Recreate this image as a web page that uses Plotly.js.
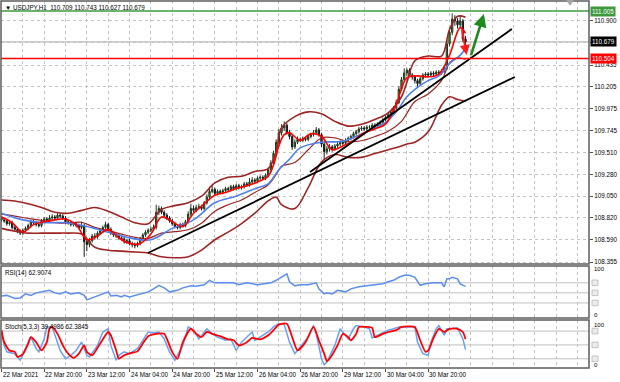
<!DOCTYPE html>
<html><head><meta charset="utf-8">
<script src="https://cdn.plot.ly/plotly-3.0.1.min.js"></script>
<style>html,body{margin:0;padding:0;background:#fff;}#chart{width:620px;height:382px;}</style>
</head><body><div id="chart"></div>
<script>
// ---------- DATA ----------
const opens = [108.82,108.80,108.79,108.76,108.77,108.72,108.70,108.68,108.66,108.69,108.71,108.74,108.78,108.77,108.75,108.74,108.79,108.81,108.80,108.82,
108.83,108.82,108.85,108.84,108.82,108.78,108.77,108.75,108.76,108.74,108.72,108.74,108.57,108.54,108.58,108.63,108.62,108.66,108.69,108.72,
108.75,108.70,108.66,108.64,108.63,108.61,108.60,108.57,108.58,108.55,108.54,108.53,108.55,108.60,108.64,108.67,108.69,108.70,108.72,108.88,
108.92,108.88,108.85,108.82,108.79,108.76,108.73,108.72,108.75,108.74,108.78,108.86,108.92,108.90,108.93,108.94,108.92,108.98,109.04,109.10,
109.12,109.08,109.10,109.09,109.11,109.13,109.12,109.15,109.13,109.16,109.14,109.15,109.18,109.17,109.20,109.22,109.21,109.24,109.25,109.24,
109.27,109.33,109.40,109.50,109.62,109.72,109.77,109.80,109.72,109.68,109.57,109.62,109.65,109.64,109.66,109.65,109.68,109.70,109.72,109.75,
109.70,109.60,109.52,109.55,109.57,109.55,109.58,109.60,109.62,109.61,109.64,109.66,109.68,109.71,109.73,109.76,109.77,109.76,109.78,109.78,
109.80,109.79,109.81,109.83,109.86,109.88,109.91,109.94,109.98,110.04,110.18,110.28,110.35,110.38,110.33,110.31,110.27,110.24,110.29,110.33,
110.34,110.33,110.35,110.34,110.36,110.35,110.37,110.40,110.66,110.78,110.92,110.90,110.86,110.90,110.709];
const closes = [108.80,108.79,108.76,108.77,108.72,108.70,108.68,108.66,108.69,108.71,108.74,108.78,108.77,108.75,108.74,108.79,108.81,108.80,108.82,108.83,
108.82,108.85,108.84,108.82,108.78,108.77,108.75,108.76,108.74,108.72,108.74,108.57,108.54,108.58,108.63,108.62,108.66,108.69,108.72,108.75,
108.70,108.66,108.64,108.63,108.61,108.60,108.57,108.58,108.55,108.54,108.53,108.55,108.60,108.64,108.67,108.69,108.70,108.72,108.88,108.92,
108.88,108.85,108.82,108.79,108.76,108.73,108.72,108.75,108.74,108.78,108.86,108.92,108.90,108.93,108.94,108.92,108.98,109.04,109.10,109.12,
109.08,109.10,109.09,109.11,109.13,109.12,109.15,109.13,109.16,109.14,109.15,109.18,109.17,109.20,109.22,109.21,109.24,109.25,109.24,109.27,
109.33,109.40,109.50,109.62,109.72,109.77,109.80,109.72,109.68,109.57,109.62,109.65,109.64,109.66,109.65,109.68,109.70,109.72,109.75,109.70,
109.60,109.52,109.55,109.57,109.55,109.58,109.60,109.62,109.61,109.64,109.66,109.68,109.71,109.73,109.76,109.77,109.76,109.78,109.78,109.80,
109.79,109.81,109.83,109.86,109.88,109.91,109.94,109.98,110.04,110.18,110.28,110.35,110.38,110.33,110.31,110.27,110.24,110.29,110.33,110.34,
110.33,110.35,110.34,110.36,110.35,110.37,110.40,110.66,110.78,110.92,110.90,110.86,110.90,110.709,110.679];
const highs = [108.84,108.82,108.81,108.79,108.79,108.74,108.72,108.70,108.71,108.73,108.76,108.80,108.80,108.79,108.77,108.81,108.83,108.83,108.85,108.86,
108.85,108.87,108.87,108.86,108.84,108.80,108.79,108.78,108.78,108.76,108.78,108.76,108.60,108.61,108.65,108.66,108.68,108.71,108.74,108.78,
108.77,108.72,108.68,108.66,108.65,108.63,108.62,108.60,108.60,108.57,108.56,108.57,108.62,108.66,108.69,108.71,108.73,108.75,108.96,108.95,
108.94,108.90,108.87,108.84,108.81,108.78,108.75,108.77,108.77,108.80,108.89,108.97,108.95,108.96,108.97,108.96,109.00,109.07,109.15,109.17,
109.14,109.12,109.12,109.13,109.15,109.15,109.17,109.17,109.18,109.18,109.17,109.20,109.20,109.24,109.25,109.24,109.26,109.27,109.27,109.29,
109.35,109.43,109.53,109.65,109.76,109.81,109.84,109.82,109.75,109.70,109.65,109.68,109.67,109.68,109.68,109.70,109.72,109.75,109.78,109.77,
109.72,109.62,109.58,109.60,109.59,109.60,109.62,109.64,109.64,109.66,109.68,109.70,109.73,109.75,109.78,109.79,109.79,109.80,109.80,109.82,
109.82,109.83,109.85,109.88,109.90,109.93,109.96,110.00,110.07,110.21,110.31,110.40,110.40,110.40,110.35,110.33,110.29,110.31,110.35,110.36,
110.36,110.37,110.37,110.38,110.38,110.39,110.43,110.70,110.83,110.98,110.96,110.93,110.95,110.92,110.743];
const lows = [108.78,108.77,108.74,108.74,108.70,108.68,108.66,108.64,108.64,108.67,108.69,108.72,108.75,108.73,108.72,108.72,108.77,108.78,108.78,108.80,
108.80,108.80,108.82,108.80,108.76,108.75,108.73,108.73,108.72,108.70,108.70,108.41,108.47,108.51,108.56,108.59,108.60,108.64,108.67,108.70,
108.68,108.64,108.62,108.61,108.59,108.58,108.55,108.55,108.53,108.51,108.50,108.51,108.53,108.58,108.62,108.65,108.67,108.68,108.70,108.85,
108.86,108.83,108.80,108.77,108.74,108.71,108.70,108.70,108.72,108.72,108.76,108.84,108.88,108.88,108.91,108.90,108.90,108.96,109.02,109.08,
109.06,109.06,109.07,109.07,109.09,109.10,109.10,109.11,109.11,109.12,109.12,109.13,109.15,109.15,109.18,109.19,109.19,109.22,109.22,109.22,
109.25,109.31,109.38,109.48,109.60,109.69,109.74,109.70,109.65,109.54,109.55,109.60,109.62,109.62,109.63,109.63,109.66,109.68,109.70,109.68,
109.57,109.43,109.49,109.52,109.52,109.53,109.56,109.58,109.59,109.59,109.62,109.64,109.66,109.69,109.71,109.74,109.74,109.74,109.76,109.76,
109.77,109.77,109.79,109.81,109.84,109.86,109.89,109.92,109.96,110.02,110.16,110.26,110.32,110.31,110.28,110.24,110.20,110.22,110.27,110.31,
110.31,110.31,110.32,110.32,110.33,110.33,110.35,110.38,110.63,110.75,110.85,110.82,110.83,110.68,110.627];

const timeLabelIdx = [0,16,32,48,64,80,96,112,128,144,160];
const timeLabels = ['22 Mar 2021','22 Mar 20:00','23 Mar 12:00','24 Mar 04:00','24 Mar 20:00','25 Mar 12:00','26 Mar 04:00','26 Mar 20:00','29 Mar 12:00','30 Mar 04:00','30 Mar 20:00'];
const gridIdx = [0,8,16,24,32,40,48,56,64,72,80,88,96,104,112,120,128,136,144,152,160,168,176,184,192,200,208,216];

const priceTicks = [110.900,110.670,110.435,110.205,109.975,109.745,109.510,109.280,109.050,108.820,108.590,108.355];
const priceTickText = ['110.900','','110.435','110.205','109.975','109.745','109.510','109.280','109.050','108.820','108.590','108.355'];

const bandIdx = [0,5,10,15,20,25,30,35,40,45,50,55,60,65,70,75,80,85,90,95,100,103,105,110,115,120,125,130,135,140,145,150,152,155,160,165,168,171,174];
const bbUpper = [109.01,109.00,108.97,108.93,108.88,108.87,108.90,108.93,108.89,108.83,108.77,108.76,108.91,108.95,108.98,109.05,109.19,109.25,109.26,109.31,109.34,109.52,109.77,109.89,109.94,109.92,109.84,109.79,109.81,109.86,109.93,110.10,110.25,110.48,110.53,110.53,110.81,110.95,110.94];
const bbLower = [108.71,108.68,108.66,108.66,108.66,108.66,108.65,108.51,108.48,108.47,108.46,108.45,108.41,108.40,108.41,108.48,108.59,108.67,108.76,108.87,109.00,109.04,108.96,108.92,109.14,109.41,109.49,109.46,109.46,109.50,109.54,109.58,109.60,109.62,109.73,110.01,110.10,110.07,110.05];
const bbMiddle = [108.86,108.84,108.815,108.795,108.77,108.765,108.775,108.72,108.685,108.65,108.615,108.605,108.66,108.675,108.695,108.765,108.89,108.96,109.01,109.09,109.17,109.28,109.365,109.405,109.54,109.665,109.665,109.625,109.635,109.68,109.735,109.84,109.925,110.05,110.13,110.27,110.455,110.51,110.495];

const redIdx = [0,4,8,12,16,20,24,28,32,36,40,44,48,52,56,60,64,68,72,76,80,84,88,92,96,100,102,104,106,108,112,116,120,124,128,132,136,140,144,148,152,156,160,164,168,172,174];
const redMA = [108.83,108.77,108.67,108.75,108.78,108.80,108.81,108.75,108.59,108.63,108.70,108.61,108.55,108.55,108.65,108.83,108.78,108.73,108.87,108.97,109.06,109.09,109.13,109.16,109.20,109.26,109.38,109.58,109.70,109.72,109.64,109.71,109.68,109.54,109.58,109.64,109.72,109.76,109.81,110.02,110.30,110.32,110.31,110.34,110.54,110.83,110.77];

const blueIdx = [0,8,16,24,32,40,48,56,64,72,80,88,96,100,104,108,112,120,128,136,144,148,152,156,160,164,168,172,174];
const blueMA = [108.87,108.80,108.77,108.77,108.73,108.67,108.61,108.59,108.71,108.80,108.98,109.05,109.14,109.18,109.33,109.44,109.56,109.62,109.63,109.72,109.83,109.94,110.10,110.20,110.27,110.32,110.45,110.54,110.61];

const trendA_x = [115.7,191.4];
const trendA_y = [109.306,110.816];
const trendB_x = [54.9,192.5];
const trendB_y = [108.450,110.309];

const resistanceLevel = 111.005;
const supportLevel = 110.504;
const lastPrice = 110.679;

const upArrow = {from:[175.9,110.523], to:[180.9,110.974]};
const downArrow = {from:[172.6,110.826], to:[174.4,110.541]};

const rsiIdx = [0,2,5,7,9,11,13,16,18,20,22,24,26,29,31,32,34,36,38,40,41,43,45,46,48,50,53,55,57,59,61,63,66,68,71,73,76,78,80,83,87,89,92,96,98,101,103,106,107,108,110,112,115,118,119,121,122,124,126,129,131,134,137,141,143,145,147,149,151,153,155,157,159,162,165,166,167,168,169,171,172,174];
const rsiVal = [44,45,39,40,48,45,50,53,55,50,48,52,48,50,45,36,40,45,48,52,44,45,42,45,42,45,48,52,58,65,60,52,55,60,64,63,66,75,70,70,70,66,70,66,68,70,75,86,88,72,64,66,66,70,58,48,50,48,55,52,58,62,64,66,68,72,75,81,85,85,81,65,68,70,70,62,78,78,81,78,68,62.9];
const rsiLevels = [70,50,30];

const stRedIdx = [0,1,3,5,6,8,10,11,13,15,17,18,19,21,23,25,27,29,31,32,34,37,40,41,43,44,46,49,51,53,55,58,61,62,64,66,68,71,73,75,77,79,82,85,87,89,92,94,97,100,102,104,107,109,111,114,117,119,121,122,123,126,128,130,131,133,134,137,139,140,143,145,148,150,153,155,157,159,160,162,164,166,168,171,173,174];
const stRed = [82,56,38,35,24,30,53,67,56,38,56,85,89,74,49,31,22,31,49,35,27.5,53,78,71,38,20,27.5,33,36,53,69,74,74,63,35,20,56,85,74,67,78,74,69,62,60,49,56,65,62,71,82,94,96,67,38,56,89,60,31,14.5,20,49,74,67,60,74,89,89,87,67,74,78,82,89,90,89,60,35,38,65,85,78,85,85,78,62.4];
const stBlueIdx = [0,1,2,5,7,9,11,13,14,16,17,19,21,22,24,26,28,30,32,33,36,38,40,41,43,44,46,48,51,53,55,57,59,61,63,65,68,70,72,74,77,79,81,84,86,88,90,92,94,95,97,100,102,104,106,108,110,112,115,117,118,120,121,122,125,127,128,130,132,133,136,138,139,142,145,147,149,152,155,156,158,160,161,163,164,166,167,169,171,173,174];
const stBlue = [78,49,35,31,17,42,67,42,35,63,89,89,56,38,20,27.5,38,56,27.5,24,49,78,85,49,17,27.5,35,31,42,60,78,76,78,63,35,17,49,89,82,63,85,74,67,60,63,38,56,67,78,60,67,78,89,96,94,56,31,45,67,92,74,20,7,13,49,85,78,63,85,92,89,85,65,74,82,85,89,89,89,56,31,27.5,56,85,92,71,85,85,87,63,40];
const stochLevels = [80,50,20];

// ---------- CHART ----------
const barIdx = closes.map((_, i) => i);
const BAND = '#9e2424', RED = '#ff0000', BLUE = '#4f7ff0', GRID = '#c4c4c4';
const FONT = 'Liberation Sans, Arial, sans-serif';

const traces = [
  {type:'candlestick', x:barIdx, open:opens, high:highs, low:lows, close:closes, xaxis:'x', yaxis:'y',
   increasing:{line:{color:'#1e3a1e', width:1}, fillcolor:'#4e9a3a'},
   decreasing:{line:{color:'#1a1a1a', width:1}, fillcolor:'#1f2a1f'}, whiskerwidth:0, hoverinfo:'skip'},
  {type:'scatter', mode:'lines', x:bandIdx, y:bbUpper, line:{color:BAND, width:1.6, shape:'spline'}, xaxis:'x', yaxis:'y'},
  {type:'scatter', mode:'lines', x:bandIdx, y:bbMiddle, line:{color:BAND, width:1.2, shape:'spline'}, xaxis:'x', yaxis:'y'},
  {type:'scatter', mode:'lines', x:bandIdx, y:bbLower, line:{color:BAND, width:1.6, shape:'spline'}, xaxis:'x', yaxis:'y'},
  {type:'scatter', mode:'lines', x:blueIdx, y:blueMA, line:{color:BLUE, width:1.6, shape:'spline'}, xaxis:'x', yaxis:'y'},
  {type:'scatter', mode:'lines', x:redIdx, y:redMA, line:{color:RED, width:1.6, shape:'spline'}, xaxis:'x', yaxis:'y'},
  {type:'scatter', mode:'lines', x:trendA_x, y:trendA_y, line:{color:'#000', width:1.8}, xaxis:'x', yaxis:'y'},
  {type:'scatter', mode:'lines', x:trendB_x, y:trendB_y, line:{color:'#000', width:1.8}, xaxis:'x', yaxis:'y'},
  {type:'scatter', mode:'lines', x:rsiIdx, y:rsiVal, line:{color:'#5b8ef0', width:1.5}, xaxis:'x', yaxis:'y2'},
  {type:'scatter', mode:'lines', x:stBlueIdx, y:stBlue, line:{color:'#6a9ff2', width:1.5}, xaxis:'x', yaxis:'y3'},
  {type:'scatter', mode:'lines', x:stRedIdx, y:stRed, line:{color:RED, width:1.8, shape:'spline', smoothing:0.6}, xaxis:'x', yaxis:'y3'}
];

const mainDom = [0.2834, 1], rsiDom = [0.1362, 0.2779], stDom = [0, 0.1308];
const shapes = [];
shapes.push({type:'line', xref:'paper', x0:0, x1:1, yref:'y', y0:lastPrice, y1:lastPrice, line:{color:'#a8a8a8', width:1}, layer:'below'});
shapes.push({type:'line', xref:'paper', x0:0, x1:1, yref:'y', y0:supportLevel, y1:supportLevel, line:{color:'#ff0000', width:1.6}, layer:'above'});
shapes.push({type:'line', xref:'paper', x0:0, x1:1, yref:'y', y0:resistanceLevel, y1:resistanceLevel, line:{color:'#3c9a3c', width:1.5}, layer:'above'});
rsiLevels.forEach(v => {
  shapes.push({type:'line', xref:'paper', x0:0, x1:1, yref:'y2', y0:v, y1:v, line:{color:'#c0c0c0', width:1}, layer:'below'});
  shapes.push({type:'rect', xref:'paper', x0:1.0051, x1:1.0153, yref:'y2', y0:v-5.5, y1:v+5.5, fillcolor:'#ececec', line:{color:'#b8b8b8', width:0.8}});
});
stochLevels.forEach(v => {
  shapes.push({type:'line', xref:'paper', x0:0, x1:1, yref:'y3', y0:v, y1:v, line:{color:'#c0c0c0', width:1}, layer:'below'});
  shapes.push({type:'rect', xref:'paper', x0:1.0051, x1:1.0153, yref:'y3', y0:v-6, y1:v+6, fillcolor:'#ececec', line:{color:'#b8b8b8', width:0.8}});
});
[mainDom, rsiDom, stDom].forEach(d => {
  shapes.push({type:'rect', xref:'paper', yref:'paper', x0:0, x1:1, y0:d[0], y1:d[1], line:{color:'#5e5e5e', width:1.5}, fillcolor:'rgba(0,0,0,0)', layer:'above'});
});
// chart shift marker (small grey triangle at the top edge)
shapes.push({type:'path', xref:'paper', yref:'paper', path:'M 0.9617 1.002 L 0.9737 1.002 L 0.9677 0.988 Z', fillcolor:'#a8a8a8', line:{color:'#a8a8a8', width:0.5}});

const ann = [];
ann.push({xref:'paper', yref:'paper', x:0, y:1, xanchor:'left', yanchor:'top', xshift:2, yshift:-1, showarrow:false,
  text:'▼ USDJPY,H1  110.709 110.743 110.627 110.679', font:{family:FONT, size:6.3, color:'#000'}});
ann.push({xref:'paper', yref:'paper', x:0, y:rsiDom[1], xanchor:'left', yanchor:'top', xshift:2, yshift:-1, showarrow:false,
  text:'RSI(14) 62.9074', font:{family:FONT, size:6.3, color:'#000'}});
ann.push({xref:'paper', yref:'paper', x:0, y:stDom[1], xanchor:'left', yanchor:'top', xshift:2, yshift:-1, showarrow:false,
  text:'Stoch(5,3,3) 39.4986 62.3845', font:{family:FONT, size:6.3, color:'#000'}});
[[resistanceLevel,'#3c9a3c','111.005'],[lastPrice,'#000000','110.679'],[supportLevel,'#ff0000','110.504']].forEach(p => {
  ann.push({xref:'paper', yref:'y', x:1, y:p[0], xanchor:'left', yanchor:'middle', xshift:1, showarrow:false,
    text:p[2], bgcolor:p[1], borderpad:1, font:{family:FONT, size:6.3, color:'#ffffff'}});
});
ann.push({xref:'paper', yref:'y2', x:1, y:100, xanchor:'left', yanchor:'middle', xshift:3, yshift:-1, showarrow:false, text:'100', font:{family:FONT, size:6, color:'#000'}});
ann.push({xref:'paper', yref:'y2', x:1, y:0, xanchor:'left', yanchor:'middle', xshift:3, yshift:3.5, showarrow:false, text:'0', font:{family:FONT, size:6, color:'#000'}});
ann.push({xref:'paper', yref:'y3', x:1, y:100, xanchor:'left', yanchor:'middle', xshift:3, yshift:-3.5, showarrow:false, text:'100', font:{family:FONT, size:6, color:'#000'}});
ann.push({xref:'paper', yref:'y3', x:1, y:0, xanchor:'left', yanchor:'middle', xshift:3, yshift:3.3, showarrow:false, text:'0', font:{family:FONT, size:6, color:'#000'}});
timeLabelIdx.forEach((xi, k) => {
  ann.push({xref:'x', yref:'paper', x:xi, y:0, xanchor:'left', yanchor:'top', yshift:-1, xshift:-1, showarrow:false,
    text:timeLabels[k], font:{family:FONT, size:6.3, color:'#000'}});
});
ann.push({xref:'x', yref:'y', axref:'x', ayref:'y', x:upArrow.to[0], y:upArrow.to[1], ax:upArrow.from[0], ay:upArrow.from[1],
  showarrow:true, arrowhead:2, arrowsize:1, arrowwidth:2.6, arrowcolor:'#1e8a1e', text:''});
ann.push({xref:'x', yref:'y', axref:'x', ayref:'y', x:downArrow.to[0], y:downArrow.to[1], ax:downArrow.from[0], ay:downArrow.from[1],
  showarrow:true, arrowhead:2, arrowsize:1, arrowwidth:2, arrowcolor:'#ff1a1a', text:''});

const layout = {
  width:620, height:382, margin:{l:1, r:31, t:1, b:14}, paper_bgcolor:'#ffffff', plot_bgcolor:'#ffffff',
  showlegend:false, hovermode:false, font:{family:FONT, size:6.3, color:'#000'},
  xaxis:{anchor:'y3', range:[-0.19, 220.3], tickvals:timeLabelIdx, ticks:'outside', ticklen:3, tickcolor:'#505050',
    showticklabels:false, showgrid:true, gridcolor:GRID, griddash:'dot', gridwidth:1, zeroline:false,
    minor:{tickvals:gridIdx, showgrid:true, gridcolor:GRID, griddash:'dot', ticks:''},
    rangeslider:{visible:false}, fixedrange:true, showline:false},
  yaxis:{domain:mainDom, range:[108.334, 111.111], side:'right', tickvals:priceTicks, ticktext:priceTickText,
    ticks:'outside', ticklen:3, tickcolor:'#505050', showgrid:true, gridcolor:GRID, griddash:'dot', zeroline:false,
    tickfont:{family:FONT, size:6.3, color:'#000'}, fixedrange:true, showline:false},
  yaxis2:{domain:rsiDom, range:[0, 103.4], side:'right', showgrid:false, zeroline:false, showticklabels:false, ticks:'', fixedrange:true},
  yaxis3:{domain:stDom, range:[0, 104], side:'right', showgrid:false, zeroline:false, showticklabels:false, ticks:'', fixedrange:true},
  shapes:shapes, annotations:ann
};

Plotly.newPlot('chart', traces, layout, {staticPlot:true, displayModeBar:false});
</script></body></html>
